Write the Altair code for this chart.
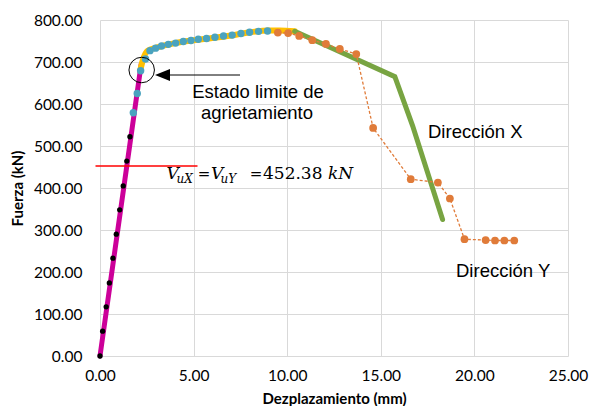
import altair as alt
import pandas as pd

# Load-displacement readings: displacement (mm), force (kN)
elastic_d = [0.00, 0.14, 0.33, 0.50, 0.69, 0.87, 1.05, 1.24, 1.43, 1.60]
elastic_f = [0, 59, 117, 174, 233, 290, 348, 405, 464, 522]

plateau_d = [1.78, 1.99, 2.17, 2.43, 2.67, 2.97, 3.29, 3.65, 4.04, 4.45,
             4.86, 5.25, 5.69, 6.14, 6.60, 7.06, 7.53, 7.99, 8.47, 8.95]
plateau_f = [579, 625, 679, 707, 727, 733, 738, 742, 745, 749,
             751, 754, 756, 759, 762, 764, 768, 771, 773, 774]

dir_y_d = [9.50, 10.05, 10.64, 11.34, 12.07, 12.81, 13.69, 14.59,
           16.60, 18.05, 18.69, 19.47, 20.60, 21.10, 21.60, 22.13]
dir_y_f = [770, 769, 762, 752, 743, 731, 719, 543,
           421, 413, 375, 278, 276, 275, 275, 275]

# Idealised envelope segments
elastic_line_d = [0.00, 2.20]
elastic_line_f = [0, 695]
yield_line_d = [2.15, 2.30, 2.55, 3.00, 4.00, 5.00, 6.00, 7.00, 8.00, 9.00, 9.60, 10.40]
yield_line_f = [680, 706, 727, 734, 745, 752, 757, 763, 771, 775, 775, 773]
dir_x_d = [10.40, 15.75, 16.70, 18.30]
dir_x_f = [773, 665, 548, 325]

# Shear capacity
vu = 452.38

x_ticks = [0, 5, 10, 15, 20, 25]
y_ticks = [0, 100, 200, 300, 400, 500, 600, 700, 800]

AXIS_FONT = "Lato"
TEXT_FONT = "Liberation Sans"
MATH_FONT = "DejaVu Serif"


def frame(d, f):
    return pd.DataFrame({"d": d, "F": f})


x_enc = alt.X(
    "d:Q",
    scale=alt.Scale(domain=[0, 25], nice=False),
    axis=alt.Axis(
        values=x_ticks, format=".2f", title="Dezplazamiento (mm)",
        titleX=234, titleY=42, titleBaseline="middle", labelFlush=False,
    ),
)
y_enc = alt.Y(
    "F:Q",
    scale=alt.Scale(domain=[0, 800], nice=False),
    axis=alt.Axis(
        values=y_ticks, format=".2f", title="Fuerza (kN)",
        titleX=-83, titleY=168, titleBaseline="middle", titleAngle=270,
        labelFlush=False,
    ),
)

magenta = alt.Chart(frame(elastic_line_d, elastic_line_f)).mark_line(
    color="#cc0099", strokeWidth=5, strokeCap="round"
).encode(x=x_enc, y=y_enc)

yellow = alt.Chart(frame(yield_line_d, yield_line_f)).mark_line(
    color="#ffc000", strokeWidth=6, strokeCap="round", interpolate="monotone"
).encode(x="d:Q", y="F:Q")

green = alt.Chart(frame(dir_x_d, dir_x_f)).mark_line(
    color="#78a442", strokeWidth=5, strokeCap="round"
).encode(x="d:Q", y="F:Q")

orange_line = alt.Chart(frame(dir_y_d, dir_y_f)).mark_line(
    color="#e07b39", strokeWidth=1.3, strokeDash=[3, 2]
).encode(x="d:Q", y="F:Q")

orange_pts = alt.Chart(frame(dir_y_d, dir_y_f)).mark_circle(
    color="#e07b39", size=60, opacity=1
).encode(x="d:Q", y="F:Q")

black_pts = alt.Chart(frame(elastic_d, elastic_f)).mark_circle(
    color="#000000", size=28, opacity=1
).encode(x="d:Q", y="F:Q")

blue_pts = alt.Chart(frame(plateau_d, plateau_f)).mark_circle(
    color="#4aa3bf", size=55, opacity=1
).encode(x="d:Q", y="F:Q")

capacity = alt.Chart(frame([0], [vu])).mark_rule(
    color="#ff0000", strokeWidth=1.5
).encode(y="F:Q", x=alt.value(-4.5), x2=alt.value(97.5))

anchor = pd.DataFrame({"k": [0]})


def label(text, px, py, **kw):
    return alt.Chart(anchor).mark_text(text=text, **kw).encode(
        x=alt.value(px), y=alt.value(py)
    )


math_it = dict(font=MATH_FONT, fontStyle="italic", align="left", baseline="alphabetic", color="#000000")
math_up = dict(font=MATH_FONT, align="left", baseline="alphabetic", color="#000000")
math_eq = dict(font=MATH_FONT, align="center", baseline="alphabetic", color="#000000")

formula = [
    label("V", 66.5, 159.3, fontSize=17, **math_it),
    label("uX", 76.5, 163, fontSize=12, **math_it),
    label("=", 104, 159.3, fontSize=15, **math_eq),
    label("V", 111, 159.3, fontSize=17, **math_it),
    label("uY", 120.5, 163, fontSize=12, **math_it),
    label("=", 156, 159.3, fontSize=15, **math_eq),
    label("452.38", 163, 159.3, fontSize=17, **math_up),
    label("kN", 228, 159.3, fontSize=17, **math_it),
]

text_style = dict(font=TEXT_FONT, fontSize=18.5, color="#000000", baseline="middle")
notes = [
    label("Estado limite de", 158, 72, align="center", **text_style),
    label("agrietamiento", 157, 93, align="center", **text_style),
    label("Dirección X", 328, 112, align="left", **text_style),
    label("Dirección Y", 356, 251, align="left", **text_style),
]

# Circle around the first cracking point and the arrow pointing at it
ring = alt.Chart(anchor).mark_point(
    shape="circle", size=650, filled=False, color="#000000", strokeWidth=1, opacity=1
).encode(x=alt.value(41.7), y=alt.value(50))

arrow_shaft = alt.Chart(anchor).mark_rule(color="#000000", strokeWidth=1).encode(
    x=alt.value(68), x2=alt.value(140), y=alt.value(55)
)
arrow_head = alt.Chart(anchor).mark_point(
    shape="M-1,0L1,-0.8L1,0.8Z", size=225, filled=True, color="#000000", opacity=1
).encode(x=alt.value(62.5), y=alt.value(55))

chart = alt.layer(
    magenta, yellow, green, orange_line, orange_pts, black_pts, blue_pts,
    capacity, ring, arrow_shaft, arrow_head, *formula, *notes,
).properties(
    width=468,
    height=336,
    padding={"left": 100, "top": 20, "right": 22, "bottom": 50},
    autosize=alt.AutoSizeParams(type="none"),
    background="#ffffff",
).configure_view(
    stroke=None
).configure_axis(
    grid=True,
    gridColor="#d9d9d9",
    gridWidth=1,
    domain=False,
    ticks=False,
    labelFont=AXIS_FONT,
    labelFontSize=15.5,
    labelColor="#000000",
    titleFont=AXIS_FONT,
    titleFontSize=15,
    titleFontWeight="bold",
    titleColor="#000000",
).configure_axisX(
    labelPadding=12,
).configure_axisY(
    labelPadding=18,
)

chart.save("out.html", embed_options={"renderer": "svg", "actions": False})
